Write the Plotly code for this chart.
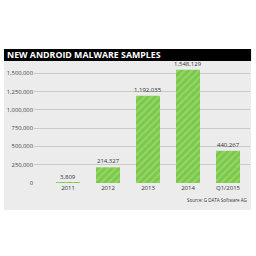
import plotly.graph_objects as go

categories = ["2011", "2012", "2013", "2014", "Q1/2015"]
samples = [3809, 214327, 1192035, 1548129, 440267]
tick_vals = [0, 250000, 500000, 750000, 1000000, 1250000, 1500000]
tick_text = ["0", "250,000", "500,000", "750,000", "1,000,000", "1,250,000", "1,500,000"]

fig = go.Figure()
fig.add_trace(go.Bar(
    x=categories, y=samples,
    width=0.6,
    marker=dict(color="#7cc94a", line=dict(width=0),
                pattern=dict(shape="/", fgcolor="#b4e38e", size=5, solidity=0.35)),
    cliponaxis=False,
))

value_labels = [
    dict(x=i, y=v, xref="x", yref="y", text=f"{v:,}", showarrow=False,
         yanchor="bottom", yshift=0,
         font=dict(size=6, color="#333333", family="Open Sans"))
    for i, v in enumerate(samples)
]

fig.update_layout(
    width=256, height=256,
    margin=dict(l=34, r=6, t=66, b=73),
    paper_bgcolor="white",
    plot_bgcolor="rgba(0,0,0,0)",
    showlegend=False,
    bargap=0.4,
    font=dict(family="Open Sans", color="#333333"),
    xaxis=dict(type="category", range=[-0.85, 4.55], showgrid=False, zeroline=False, showline=False,
               ticks="", tickfont=dict(size=6, color="#333333")),
    yaxis=dict(range=[0, 1600000], tickvals=tick_vals, ticktext=tick_text,
               showgrid=True, gridcolor="#c9c9c9", gridwidth=1, zeroline=False,
               showline=False, ticks="", tickfont=dict(size=5.8, color="#444444")),
    shapes=[
        dict(type="rect", xref="paper", yref="paper", x0=-0.139, x1=1.005, y0=-0.231, y1=1.043,
             fillcolor="#ececec", line=dict(width=0), layer="below"),
        dict(type="rect", xref="paper", yref="paper", x0=-0.139, x1=1.005, y0=1.043, y1=1.145,
             fillcolor="#000000", line=dict(width=0), layer="below"),
    ],
    annotations=value_labels + [
        dict(text="<b>NEW ANDROID MALWARE SAMPLES</b>", xref="paper", yref="paper",
             x=-0.132, y=1.094, xanchor="left", yanchor="middle", showarrow=False,
             font=dict(size=8.8, color="white", family="Open Sans")),
        dict(text="Source: G DATA Software AG", xref="paper", yref="paper",
             x=0.995, y=-0.145, xanchor="right", yanchor="middle", showarrow=False,
             font=dict(size=4.5, color="#333333", family="Open Sans")),
    ],
)

fig.write_html("out.html")
